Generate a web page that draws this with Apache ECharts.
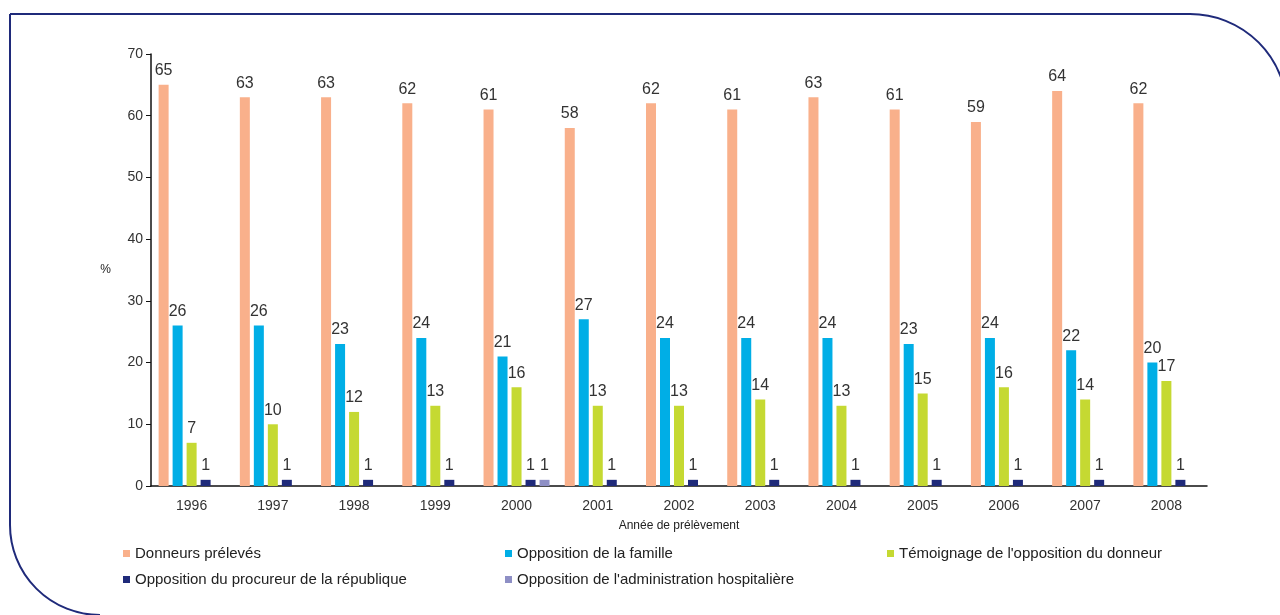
<!DOCTYPE html>
<html><head><meta charset="utf-8">
<script src="https://cdn.jsdelivr.net/npm/echarts@6/dist/echarts.min.js"></script>
<style>html,body{margin:0;padding:0;background:#fff}#c{width:1280px;height:615px}</style>
</head><body><div id="c"></div>
<script>
const years = ['1996','1997','1998','1999','2000','2001','2002','2003','2004','2005','2006','2007','2008'];
const donneurs = [65,63,63,62,61,58,62,61,63,61,59,64,62];
const famille = [26,26,23,24,21,27,24,24,24,23,24,22,20];
const temoignage = [7,10,12,13,16,13,13,14,13,15,16,14,17];
const procureur = [1,1,1,1,1,1,1,1,1,1,1,1,1];
const administration = [null,null,null,null,1,null,null,null,null,null,null,null,null];
const yTicks = [0,10,20,30,40,50,60,70];

const names = ['Donneurs prélevés','Opposition de la famille',"Témoignage de l'opposition du donneur",'Opposition du procureur de la république',"Opposition de l'administration hospitalière"];
const colors = ['#F9B08B','#00AEE6','#C5D932','#1F2A7A','#8E8FC5'];
const datas = [donneurs,famille,temoignage,procureur,administration];
const FONT = 'Liberation Sans';
const chart = echarts.init(document.getElementById('c'));
const legendBase = {orient:'vertical', itemWidth:7, itemHeight:7, itemGap:11, icon:'rect',
  textStyle:{fontFamily:FONT,fontSize:15,color:'#222'}, selectedMode:false};
const border = {fill:'none', stroke:'#1F2A7A', lineWidth:2};
chart.setOption({
  animation:false,
  color: colors,
  grid:{left:151, top:54, right:73, bottom:129},
  graphic:[
    {type:'line', shape:{x1:10,y1:14,x2:1190,y2:14}, style:border, silent:true},
    {type:'line', shape:{x1:10,y1:14,x2:10,y2:525}, style:border, silent:true},
    {type:'arc', shape:{cx:100,cy:525,r:90,startAngle:Math.PI/2,endAngle:Math.PI,clockwise:true}, style:border, silent:true},
    {type:'arc', shape:{cx:1190,cy:111,r:97,startAngle:-Math.PI/2,endAngle:0,clockwise:true}, style:border, silent:true}
  ],
  legend:[
    Object.assign({left:118, top:541, data:[names[0],names[3]]}, legendBase),
    Object.assign({left:500, top:541, data:[names[1],names[4]]}, legendBase),
    Object.assign({left:882, top:541, data:[names[2]]}, legendBase)
  ],
  xAxis:{type:'category', data:years, name:'Année de prélèvement', nameLocation:'middle', nameGap:34,
    nameTextStyle:{fontFamily:FONT,fontSize:12,color:'#222'},
    axisLine:{lineStyle:{color:'#111',width:1.5}},
    axisTick:{inside:true,length:7,lineStyle:{color:'#111'}},
    axisLabel:{fontFamily:FONT,fontSize:14,color:'#333',margin:13}},
  yAxis:{type:'value', min:0, max:70, interval:10, name:'%', nameLocation:'middle', nameGap:40, nameRotate:0,
    nameTextStyle:{fontFamily:FONT,fontSize:12,color:'#222'},
    splitLine:{show:false},
    axisLine:{show:true,lineStyle:{color:'#111',width:1.5}},
    axisTick:{show:true,length:5,lineStyle:{color:'#111'}},
    axisLabel:{fontFamily:FONT,fontSize:14,color:'#333',margin:8,
      formatter:v=>yTicks.includes(v)?String(v):''}},
  series: datas.map((d,i)=>({name:names[i], type:'bar', data:d, barWidth:10, barGap:'40%',
    label:{show:true, position:'top', distance:6, fontFamily:FONT, fontSize:16, color:'#333'}}))
});
</script></body></html>
